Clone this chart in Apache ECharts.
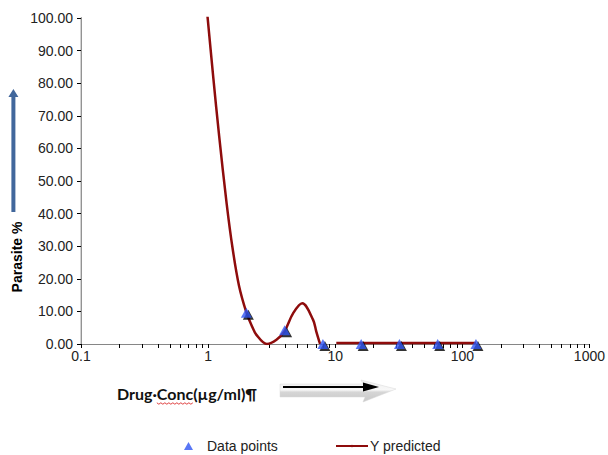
<!DOCTYPE html>
<html>
<head>
<meta charset="utf-8">
<script src="https://cdn.jsdelivr.net/npm/echarts@6/dist/echarts.min.js"></script>
<style>
  html, body { margin: 0; padding: 0; background: #ffffff; }
  #chart { width: 608px; height: 455px; }
</style>
</head>
<body>
<div id="chart"></div>
<script>
// Measured parasite percentages at each drug concentration (µg/ml)
const concentrations = [2, 4, 8, 16, 32, 64, 128];
const parasitePct = [9.6, 4.2, 0, 0, 0, 0, 0];

// Fitted curve, first piece (falls from the top, dips, small bump, back to zero)
const fitConcA = [0.97, 1.1, 1.22, 1.4, 1.56, 1.75, 2, 2.2, 2.4, 2.9, 3.45, 4, 4.66, 5.5, 6.7, 7.1, 7.6];
const fitValueA = [104, 81.5, 64, 43, 29.2, 17.9, 9.7, 5.7, 2.8, 0, 1.3, 4, 9.4, 12.5, 7.4, 3.8, 0];
// Fitted curve, second piece (flat near zero)
const fitConcB = [10.2, 16, 32, 64, 128];
const fitValueB = [0.3, 0.3, 0.3, 0.3, 0.3];

// Minor ticks of the log axis (2..9 inside each decade)
const minorTickConc = [
  0.2, 0.3, 0.4, 0.5, 0.6, 0.7, 0.8, 0.9,
  2, 3, 4, 5, 6, 7, 8, 9,
  20, 30, 40, 50, 60, 70, 80, 90,
  200, 300, 400, 500, 600, 700, 800, 900
];

const xAxisTitle = 'Drug\u00b7Conc(\u00b5g/ml)\u00b6';
const yAxisTitle = 'Parasite %';

const pairs = (xs, ys) => xs.map((x, i) => [x, ys[i]]);

const TEXT_FONT = 'Liberation Sans, Arial, sans-serif';
const TITLE_FONT = 'Lato, Liberation Sans, sans-serif';
const TITLE_SIZE = 16;

// measure title pieces so the spell-check squiggle sits under "Conc"
const ctx = document.createElement('canvas').getContext('2d');
ctx.font = 'bold ' + TITLE_SIZE + 'px ' + TITLE_FONT;
const titleX = 117;
const preW = ctx.measureText('Drug\u00b7').width;
const concW = ctx.measureText('Conc').width;
const squiggle = [];
for (let i = 0, x = titleX + preW; x <= titleX + preW + concW; i++, x += 2) {
  squiggle.push([x, 403 + (i % 2 ? 1.2 : -0.2)]);
}

const chart = echarts.init(document.getElementById('chart'), null, { renderer: 'svg' });

chart.setOption({
  animation: false,
  backgroundColor: '#ffffff',
  grid: { left: 81, right: 18, top: 18, bottom: 111, containLabel: false },
  xAxis: [
    {
      type: 'log',
      logBase: 10,
      min: 0.1,
      max: 1000,
      axisLine: { show: true, onZero: false, lineStyle: { color: '#000', width: 1 } },
      axisTick: { show: true, inside: false, length: 4, lineStyle: { color: '#000' } },
      axisLabel: {
        margin: 5,
        fontFamily: TEXT_FONT,
        fontSize: 14,
        color: '#222',
        formatter: v => String(+v.toPrecision(3))
      },
      splitLine: { show: false },
      minorTick: { show: false },
      minorSplitLine: { show: false }
    },
    {
      type: 'value',
      position: 'top',
      min: 0, max: 1,
      axisLine: { show: true, lineStyle: { color: '#868686', width: 1 } },
      axisTick: { show: false },
      axisLabel: { show: false },
      splitLine: { show: false }
    }
  ],
  yAxis: [
    {
      type: 'value',
      min: 0,
      max: 100,
      interval: 10,
      axisLine: { show: true, onZero: false, lineStyle: { color: '#000', width: 1 } },
      axisTick: { show: true, inside: false, length: 4, lineStyle: { color: '#000' } },
      axisLabel: {
        margin: 8,
        fontFamily: TEXT_FONT,
        fontSize: 14,
        color: '#222',
        formatter: v => v.toFixed(2)
      },
      splitLine: { show: false }
    },
    {
      type: 'value',
      position: 'right',
      min: 0, max: 1,
      axisLine: { show: true, lineStyle: { color: '#c4c4c4', width: 1.5 } },
      axisTick: { show: false },
      axisLabel: { show: false },
      splitLine: { show: false }
    }
  ],
  legend: [
    {
      data: [{ name: 'Data points', icon: 'triangle' }],
      left: 184,
      top: 439,
      padding: 0,
      itemWidth: 9,
      itemHeight: 8,
      selectedMode: false,
      itemStyle: { shadowBlur: 0, shadowOffsetX: 0, shadowOffsetY: 0, shadowColor: 'transparent' },
      textStyle: { fontFamily: TEXT_FONT, fontSize: 14, color: '#222', padding: [0, 0, 0, 9] }
    },
    {
      data: ['Y predicted'],
      left: 335,
      top: 439,
      padding: 0,
      itemWidth: 32,
      itemHeight: 3,
      selectedMode: false,
      textStyle: { fontFamily: TEXT_FONT, fontSize: 14, color: '#222', padding: [0, 0, 0, -3] }
    }
  ],
  series: [
    {
      name: 'minor ticks',
      type: 'custom',
      silent: true,
      data: minorTickConc.map(c => [c, 0]),
      renderItem: (params, api) => {
        const p = api.coord([api.value(0), 0]);
        return {
          type: 'line',
          shape: { x1: Math.round(p[0]) + 0.5, y1: p[1], x2: Math.round(p[0]) + 0.5, y2: p[1] + 4 },
          style: { stroke: '#000', lineWidth: 1 }
        };
      },
      clip: false,
      z: 1
    },
    {
      name: 'Y predicted',
      type: 'line',
      data: pairs(fitConcA, fitValueA),
      smooth: 0.35,
      symbol: 'none',
      clip: true,
      lineStyle: { color: '#8e0c0c', width: 2.5 },
      itemStyle: { color: '#8e0c0c' },
      z: 3
    },
    {
      name: 'Y predicted',
      type: 'line',
      data: pairs(fitConcB, fitValueB),
      smooth: 0.35,
      symbol: 'none',
      clip: true,
      lineStyle: { color: '#8e0c0c', width: 2.5 },
      itemStyle: { color: '#8e0c0c' },
      z: 3
    },
    {
      name: 'point shadow',
      type: 'scatter',
      silent: true,
      data: pairs(concentrations, parasitePct),
      symbol: 'triangle',
      symbolSize: [11, 10],
      symbolOffset: [2, 2],
      itemStyle: { color: '#000' },
      z: 4
    },
    {
      name: 'Data points',
      type: 'scatter',
      data: pairs(concentrations, parasitePct),
      symbol: 'triangle',
      symbolSize: [11, 10],
      itemStyle: { color: '#2f55f2' },
      z: 5
    }
  ],
  graphic: [
    // upward arrow beside the y title
    {
      type: 'polygon',
      silent: true,
      shape: { points: [[11.4, 212], [15.4, 212], [15.4, 97], [18.4, 97], [13.4, 89], [8.4, 97], [11.4, 97]] },
      style: { fill: '#41679c' }
    },
    {
      type: 'text',
      silent: true,
      x: 17,
      y: 257,
      rotation: Math.PI / 2,
      style: {
        text: yAxisTitle,
        fill: '#000',
        font: 'bold 14px ' + TEXT_FONT,
        align: 'center',
        verticalAlign: 'middle'
      }
    },
    {
      type: 'text',
      silent: true,
      x: titleX,
      y: 393,
      style: {
        text: xAxisTitle,
        fill: '#111',
        font: 'bold ' + TITLE_SIZE + 'px ' + TITLE_FONT,
        align: 'left',
        verticalAlign: 'middle'
      }
    },
    {
      type: 'polyline',
      silent: true,
      shape: { points: squiggle },
      style: { stroke: '#e04040', lineWidth: 1, fill: null }
    },
    // grey block arrow with a black arrow drawn over it
    {
      type: 'polygon',
      silent: true,
      shape: { points: [[280, 384], [363, 384], [361, 380], [396, 389], [363, 402], [365, 397], [280, 397]] },
      style: {
        fill: new echarts.graphic.LinearGradient(0, 0, 0, 1, [
          { offset: 0, color: '#eeeeee' },
          { offset: 0.45, color: '#f8f8f8' },
          { offset: 0.55, color: '#d6d6d6' },
          { offset: 1, color: '#c8c8c8' }
        ]),
        stroke: '#d8d8d8',
        lineWidth: 0.5
      }
    },
    {
      type: 'line',
      silent: true,
      shape: { x1: 283, y1: 387, x2: 366, y2: 387 },
      style: { stroke: '#000', lineWidth: 2 }
    },
    {
      type: 'polygon',
      silent: true,
      shape: { points: [[363, 382.5], [379, 387], [363, 391.5]] },
      style: { fill: '#000' }
    }
  ]
});
</script>
</body>
</html>
